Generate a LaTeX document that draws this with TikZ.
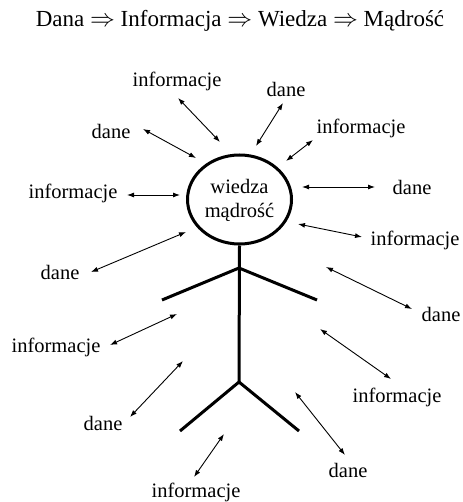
\documentclass[tikz,border=0pt]{standalone}
\usepackage{fontspec}
\setmainfont{Liberation Serif}
\usetikzlibrary{arrows.meta,shapes.geometric}

\tikzset{
    lbl/.style={font=\fontsize{20.5}{24}\selectfont, inner sep=0pt},
    link/.style={{Latex[length=7pt,width=5pt]}-{Latex[length=7pt,width=5pt]}, line width=0.9pt},
    body/.style={line width=3pt}
}

\begin{document}
\begin{tikzpicture}[x=1pt,y=-1pt]
    \useasboundingbox (0,0) rectangle (462,502);

            % Title
            \node[lbl, font=\fontsize{23}{27}\selectfont] (title) at (240,21) {Dana $\Rightarrow$ Informacja $\Rightarrow$ Wiedza $\Rightarrow$ Mądrość};

            % Head
            \node[draw, body, ellipse, minimum width=104, minimum height=89, inner sep=0pt] (head) at (239.5,199.5) {};
            \node[lbl] (wiedza) at (239.5,186) {wiedza};
            \node[lbl] (madrosc) at (239.5,212) {mądrość};

            % Body
            \coordinate (neck) at (239,245);
            \coordinate (shoulder) at (239,268);
            \coordinate (lhand) at (162,300);
            \coordinate (rhand) at (317,300);
            \coordinate (hip) at (239,382);
            \coordinate (lfoot) at (180,431);
            \coordinate (rfoot) at (299,431);
            \draw[body] (head.south) -- (hip);
            \draw[body] (lhand) -- (shoulder) -- (rhand);
            \draw[body] (lfoot) -- (hip) -- (rfoot);

            % Labels
            \node[lbl] (i1) at (177,81) {informacje};
            \node[lbl] (d1) at (286,89) {dane};
            \node[lbl] (d2) at (111,131) {dane};
            \node[lbl] (i2) at (361,128) {informacje};
            \node[lbl] (i3) at (73,193) {informacje};
            \node[lbl] (d3) at (412,187) {dane};
            \node[lbl] (i4) at (415,240) {informacje};
            \node[lbl] (d4) at (60,272) {dane};
            \node[lbl] (d5) at (441,314) {dane};
            \node[lbl] (i5) at (56,347) {informacje};
            \node[lbl] (i6) at (397,397) {informacje};
            \node[lbl] (d6) at (103,423) {dane};
            \node[lbl] (i7) at (196,492) {informacje};
            \node[lbl] (d7) at (348,470) {dane};

            % Arrow ends
            \coordinate (a1) at (178,98);   \coordinate (b1) at (220,142);
            \coordinate (a2) at (283,103);  \coordinate (b2) at (256,146);
            \coordinate (a3) at (143,129);  \coordinate (b3) at (196,158);
            \coordinate (a4) at (313,140);  \coordinate (b4) at (286,161);
            \coordinate (a5) at (127,195);  \coordinate (b5) at (180,195);
            \coordinate (a6) at (375,187);  \coordinate (b6) at (302,187);
            \coordinate (a7) at (362,237);  \coordinate (b7) at (298,224);
            \coordinate (a8) at (91,272);   \coordinate (b8) at (186,232);
            \coordinate (a9) at (412,309);  \coordinate (b9) at (326,267);
            \coordinate (a10) at (110,345); \coordinate (b10) at (177,314);
            \coordinate (a11) at (391,379); \coordinate (b11) at (320,329);
            \coordinate (a12) at (130,417); \coordinate (b12) at (183,361);
            \coordinate (a13) at (194,477); \coordinate (b13) at (224,434);
            \coordinate (a14) at (345,455); \coordinate (b14) at (295,392);

            % Connections
            \foreach \k in {1,...,14}
                \draw[link] (a\k) -- (b\k);

        \end{tikzpicture}
\end{document}
